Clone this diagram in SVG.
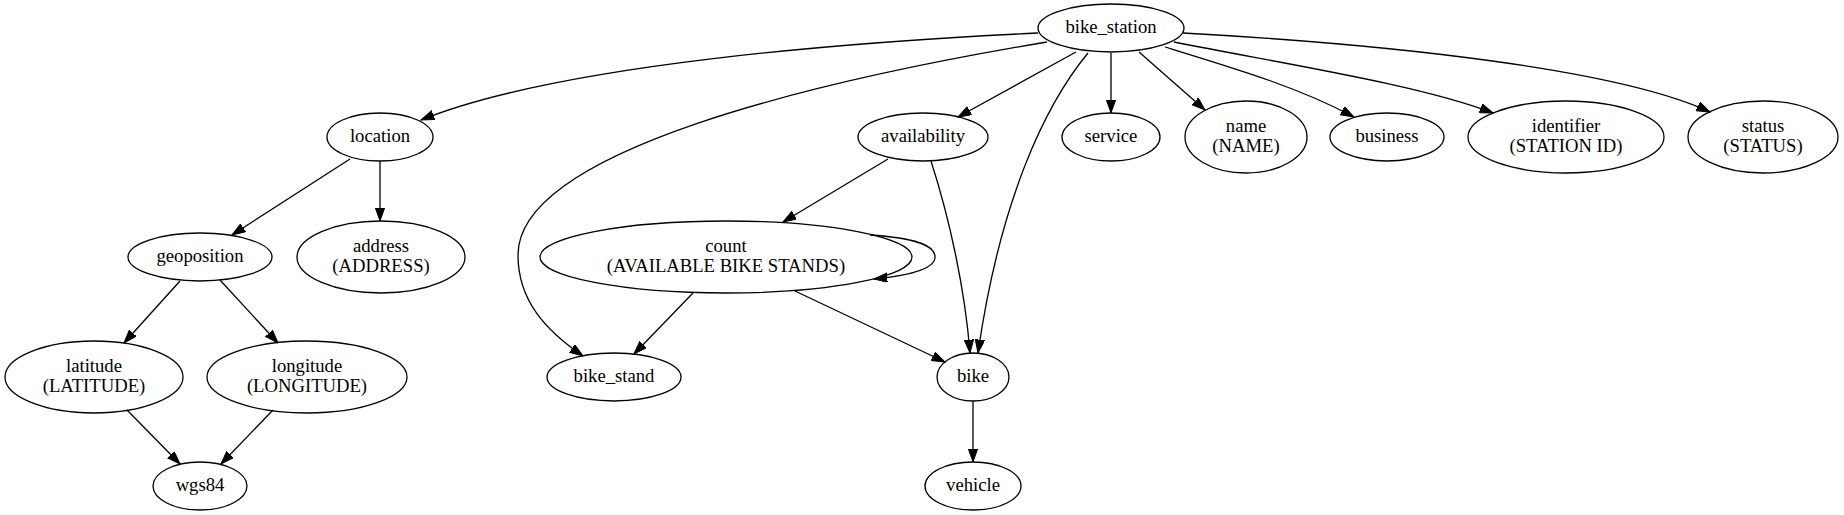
<svg xmlns="http://www.w3.org/2000/svg" width="1844" height="515" viewBox="0 0 1844 515">
<style>
.n ellipse{fill:none;stroke:#000;stroke-width:1.3}
.n text{font-family:"Liberation Serif","Times New Roman",serif;font-size:18.67px;text-anchor:middle;fill:#000}
#edges path{fill:none;stroke:#000;stroke-width:1.3;marker-end:url(#ah)}
</style>
<defs>
<marker id="ah" markerUnits="userSpaceOnUse" markerWidth="14" markerHeight="10" refX="13.3" refY="4.7" orient="auto" viewBox="0 0 14 10">
<path d="M0,0 L13.3,4.7 L0,9.4 z" fill="#000" stroke="#000" stroke-width="1"/>
</marker>
</defs>
<rect width="1844" height="515" fill="#fff"/>
<g id="edges">
<path d="M1038,33 C850,42 560,64 421,120"/>
<path d="M1047,42 C820,80 518,150 518,255 C518,300 545,330 583,356"/>
<path d="M1076,52 L958,117"/>
<path d="M1088,53 C1045,105 1000,200 978,353"/>
<path d="M1111,53 L1111,113"/>
<path d="M1139,52 L1205,110"/>
<path d="M1165,47 C1240,70 1300,88 1354,117"/>
<path d="M1174,42 C1290,65 1420,85 1493,113"/>
<path d="M1183,33 C1400,45 1620,70 1710,112"/>
<path d="M350,159 L232,235"/>
<path d="M380,161 L380,221"/>
<path d="M180,281 L124,343"/>
<path d="M220,280 L278,343"/>
<path d="M127,410 L180,464"/>
<path d="M273,410 L221,464"/>
<path d="M888,159 L783,222"/>
<path d="M931,161 C950,220 965,290 970,353"/>
<path d="M870,235 C915,238 935,245 935,257 C935,268 915,275 874,279"/>
<path d="M693,293 L634,354"/>
<path d="M795,291 L945,362"/>
<path d="M973,401 L973,462"/>
</g>
<g id="bike_station" class="n"><ellipse cx="1111" cy="28" rx="73" ry="24"/><text x="1111" y="33">bike_station</text></g>
<g id="location" class="n"><ellipse cx="380" cy="137" rx="53" ry="24"/><text x="380" y="142">location</text></g>
<g id="availability" class="n"><ellipse cx="923" cy="137" rx="65" ry="24"/><text x="923" y="142">availability</text></g>
<g id="service" class="n"><ellipse cx="1111" cy="137" rx="49" ry="24"/><text x="1111" y="142">service</text></g>
<g id="name" class="n"><ellipse cx="1246" cy="137" rx="61" ry="36"/><text x="1246" y="132">name</text><text x="1246" y="152">(NAME)</text></g>
<g id="business" class="n"><ellipse cx="1387" cy="137" rx="57" ry="24"/><text x="1387" y="142">business</text></g>
<g id="identifier" class="n"><ellipse cx="1566" cy="137" rx="98" ry="36"/><text x="1566" y="132">identifier</text><text x="1566" y="152">(STATION ID)</text></g>
<g id="status" class="n"><ellipse cx="1763" cy="137" rx="75" ry="36"/><text x="1763" y="132">status</text><text x="1763" y="152">(STATUS)</text></g>
<g id="geoposition" class="n"><ellipse cx="200" cy="257" rx="72" ry="24"/><text x="200" y="262">geoposition</text></g>
<g id="address" class="n"><ellipse cx="381" cy="257" rx="84" ry="36"/><text x="381" y="252">address</text><text x="381" y="272">(ADDRESS)</text></g>
<g id="count" class="n"><ellipse cx="726" cy="257" rx="186" ry="36"/><text x="726" y="252">count</text><text x="726" y="272">(AVAILABLE BIKE STANDS)</text></g>
<g id="latitude" class="n"><ellipse cx="94" cy="377" rx="89" ry="36"/><text x="94" y="372">latitude</text><text x="94" y="392">(LATITUDE)</text></g>
<g id="longitude" class="n"><ellipse cx="307" cy="377" rx="100" ry="36"/><text x="307" y="372">longitude</text><text x="307" y="392">(LONGITUDE)</text></g>
<g id="bike_stand" class="n"><ellipse cx="614" cy="377" rx="67" ry="24"/><text x="614" y="382">bike_stand</text></g>
<g id="bike" class="n"><ellipse cx="973" cy="377" rx="36" ry="24"/><text x="973" y="382">bike</text></g>
<g id="wgs84" class="n"><ellipse cx="200" cy="486" rx="47" ry="24"/><text x="200" y="491">wgs84</text></g>
<g id="vehicle" class="n"><ellipse cx="973" cy="486" rx="48" ry="24"/><text x="973" y="491">vehicle</text></g>
</svg>
